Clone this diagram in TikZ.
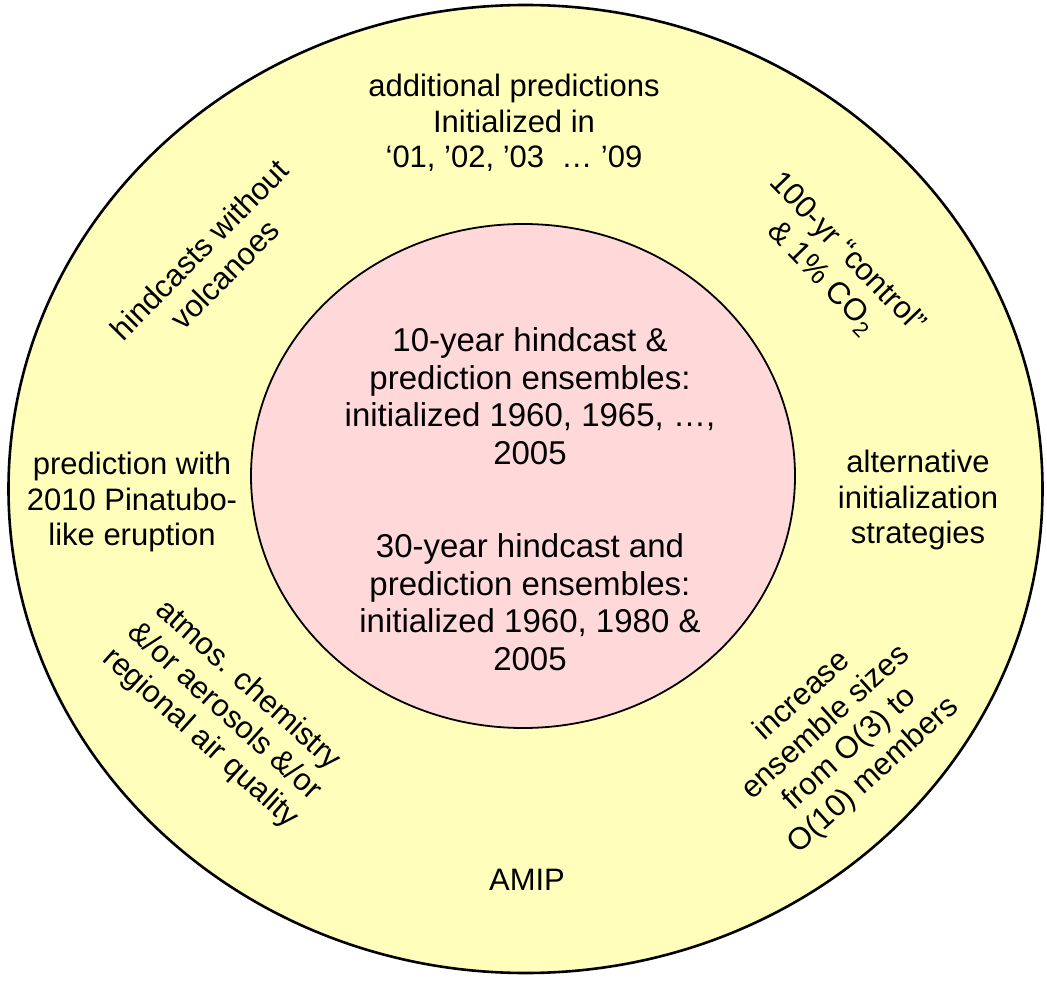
\documentclass[tikz,border=0pt]{standalone}
\usepackage{fontspec}
\setmainfont{Liberation Sans}
\definecolor{ringyellow}{RGB}{255,255,187}
\definecolor{corepink}{RGB}{255,217,217}
\begin{document}
\begin{tikzpicture}[x=1pt,y=-1pt,
  outertext/.style={align=center,font=\fontsize{31}{35.5}\selectfont,inner sep=0pt},
  innertext/.style={align=center,font=\fontsize{33}{37.5}\selectfont,inner sep=0pt}]
\useasboundingbox (0,0) rectangle (1047,981);
\fill[white] (0,0) rectangle (1047,981);
\draw[line width=2.6pt,fill=ringyellow] (525.5,489) ellipse [x radius=517, y radius=484];
\draw[line width=1.8pt,fill=corepink] (523,476) ellipse [x radius=272, y radius=252];
\node[outertext] (top) at (514,123) {additional predictions\\Initialized in\\‘01, ’02, ’03 \ … ’09};
\node[outertext,rotate=45.5] (volc) at (212,262) {hindcasts without\\volcanoes};
\node[outertext,rotate=-46] (ctrl) at (834,266) {100-yr “control”\\\& 1\% CO\textsubscript{2}};
\node[outertext] (pina) at (132,502) {prediction with\\2010 Pinatubo-\\like eruption};
\node[outertext] (alt) at (918,500) {alternative\\initialization\\strategies};
\node[outertext,rotate=-42] (chem) at (224,712) {atmos. chemistry\\\&/or aerosols \&/or\\regional air quality};
\node[outertext,rotate=42] (ens) at (838,736) {increase\\ensemble sizes\\from O(3) to\\O(10) members};
\node[outertext] (amip) at (527,880) {AMIP};
\node[innertext] (ten) at (530,396) {10-year hindcast \&\\prediction ensembles:\\initialized 1960, 1965, …,\\2005};
\node[innertext] (thirty) at (530,602) {30-year hindcast and\\prediction ensembles:\\initialized 1960, 1980 \&\\2005};
\end{tikzpicture}
\end{document}
